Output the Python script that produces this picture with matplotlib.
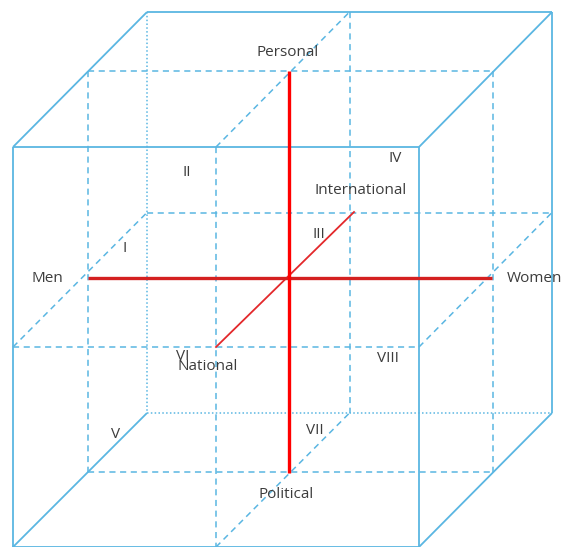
import matplotlib
matplotlib.use("Agg")
import matplotlib.pyplot as plt

# Cube geometry (pixel space of the reference image)
front_x = [13, 419]          # front face left / right
front_y = [147, 547]         # front face top / bottom
back_x = [147, 552]          # back face left / right
back_y = [12, 413]           # back face top / bottom
mid_depth_x = [88, 493]      # middle depth plane left / right
mid_depth_y = [71, 472]      # middle depth plane top / bottom

# Red axes
axis_lr = [(88, 278), (492, 278)]        # Men - Women
axis_ud = [(289, 71), (289, 473)]        # Personal - Political
axis_ni = [(216, 347), (354, 212)]       # National - International

# Labels
axis_labels = ["Personal", "Political", "Men", "Women", "International", "National"]
axis_label_pos = [(288, 52), (286, 494), (47, 278), (507, 278), (361, 191), (208, 367)]
axis_label_ha = ["center", "center", "center", "left", "center", "center"]
octants = ["I", "II", "III", "IV", "V", "VI", "VII", "VIII"]
octant_pos = [(125, 248), (187, 172), (319, 234), (395, 158),
              (116, 435), (183, 356), (315, 431), (388, 358)]

BLUE = "#5ab6e2"
TXT = "#3c3c3c"

fig = plt.figure(figsize=(5.65, 5.47), dpi=100)
ax = fig.add_axes([0, 0, 1, 1])
ax.set_xlim(0, 565)
ax.set_ylim(547, 0)
ax.axis("off")

solid = dict(color=BLUE, lw=1.3, solid_capstyle="butt")
dashed = dict(color=BLUE, lw=1.1, linestyle=(0, (4, 3)))
dotted = dict(color=BLUE, lw=1.1, linestyle=(0, (1, 1.5)))

def seg(p, q, **kw):
    ax.plot([p[0], q[0]], [p[1], q[1]], **kw)

fx0, fx1 = front_x
fy0, fy1 = front_y
bx0, bx1 = back_x
by0, by1 = back_y
fxm = (fx0 + fx1) / 2
bxm = (bx0 + bx1) / 2
fym = (fy0 + fy1) / 2
bym = (by0 + by1) / 2

# Front face (solid)
seg((fx0, fy0), (fx1, fy0), **solid)
seg((fx0, fy1), (fx1, fy1), **solid)
seg((fx0, fy0), (fx0, fy1), **solid)
seg((fx1, fy0), (fx1, fy1), **solid)
# Back face: top & right solid, left & bottom dotted
seg((bx0, by0), (bx1, by0), **solid)
seg((bx1, by0), (bx1, by1), **solid)
seg((bx0, by0), (bx0, by1), **dotted)
seg((bx0, by1), (bx1, by1), **dotted)
# Depth edges (solid)
seg((fx0, fy0), (bx0, by0), **solid)
seg((fx1, fy0), (bx1, by0), **solid)
seg((fx1, fy1), (bx1, by1), **solid)
seg((fx0, fy1), (bx0, by1), **solid)

# Middle horizontal plane (dashed)
seg((fx0, fym), (fx1, fym), **dashed)
seg((bx0, bym), (bx1, bym), **dashed)
seg((fx0, fym), (bx0, bym), **dashed)
seg((fx1, fym), (bx1, bym), **dashed)

# Middle vertical (left-right) plane (dashed)
seg((fxm, fy0), (fxm, fy1), **dashed)
seg((bxm, by0), (bxm, by1), **dashed)
seg((fxm, fy0), (bxm, by0), **dashed)
seg((fxm, fy1), (bxm, by1), **dashed)

# Middle depth plane (dashed)
mx0, mx1 = mid_depth_x
my0, my1 = mid_depth_y
seg((mx0, my0), (mx1, my0), **dashed)
seg((mx0, my1), (mx1, my1), **dashed)
seg((mx0, my0), (mx0, my1), **dashed)
seg((mx1, my0), (mx1, my1), **dashed)

# Red axes
seg(*axis_ni, color="#e3282b", lw=1.3)
seg(*axis_lr, color="#d42020", lw=2.4, solid_capstyle="butt")
seg(*axis_ud, color="#ff0000", lw=2.4, solid_capstyle="butt")

for t, (x, y), ha in zip(axis_labels, axis_label_pos, axis_label_ha):
    ax.text(x, y, t, ha=ha, va="center", fontsize=11, color=TXT,
            family="Open Sans")
for t, (x, y) in zip(octants, octant_pos):
    ax.text(x, y, t, ha="center", va="center", fontsize=11, color=TXT,
            family="Open Sans")

fig.savefig("out.png", dpi=100, facecolor="white")
